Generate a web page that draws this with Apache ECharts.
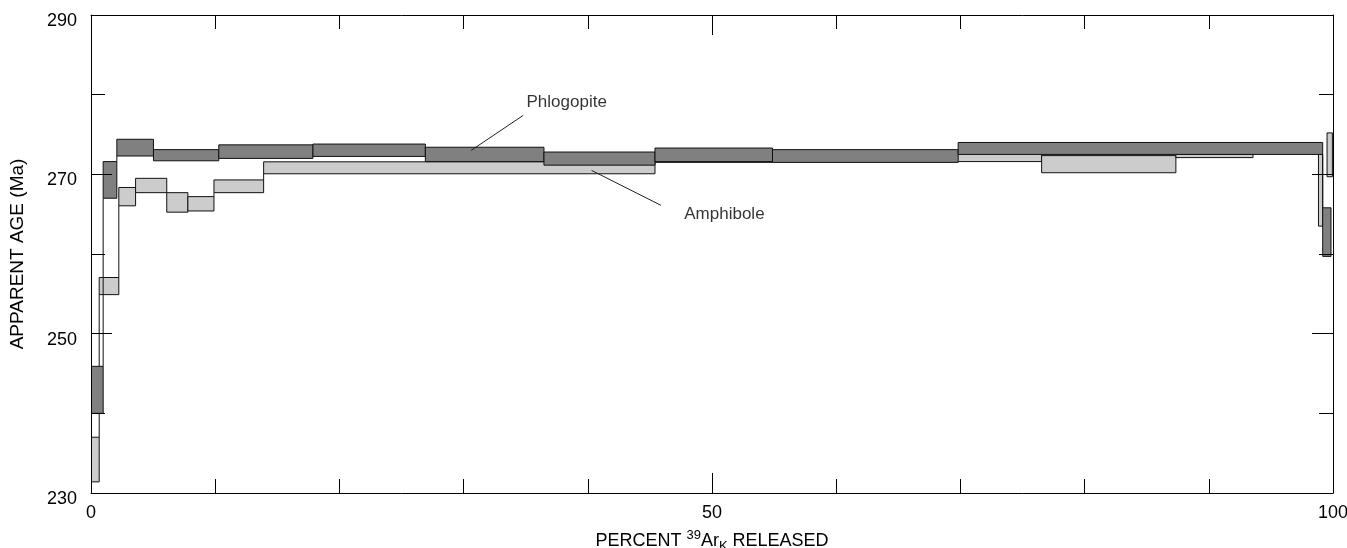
<!DOCTYPE html>
<html>
<head>
<meta charset="utf-8">
<script src="https://cdn.jsdelivr.net/npm/echarts@6/dist/echarts.min.js"></script>
<style>
  html, body { margin: 0; padding: 0; background: #fff; }
  #chart { width: 1347px; height: 548px; }
</style>
</head>
<body>
<div id="chart"></div>
<script>
// step heating spectra: cumulative % 39ArK released (start / end) and age band (low / high, Ma)
const phlStart = [0, 0.98, 2.08, 5.03, 10.29, 17.87, 26.92, 36.47, 45.41, 54.87, 69.82, 99.17];
const phlEnd   = [0.98, 2.08, 5.03, 10.29, 17.87, 26.92, 36.47, 45.41, 54.87, 69.82, 99.17, 99.84];
const phlLow   = [240.0, 267.0, 272.3, 271.7, 272.0, 272.25, 271.6, 271.15, 271.6, 271.5, 272.5, 259.7];
const phlHigh  = [245.9, 271.6, 274.4, 273.1, 273.7, 273.8, 273.4, 272.8, 273.3, 273.1, 274.0, 265.8];

const amphStart = [0, 0.66, 2.24, 3.59, 6.1, 7.8, 9.9, 13.9, 45.41, 54.87, 76.54, 87.35, 93.56, 98.83, 99.52];
const amphEnd   = [0.66, 2.24, 3.59, 6.1, 7.8, 9.9, 13.9, 45.41, 54.87, 76.54, 87.35, 93.56, 98.83, 99.17, 99.95];
const amphLow   = [231.4, 254.9, 266.05, 267.7, 265.25, 265.4, 267.7, 270.07, 271.5, 271.6, 270.2, 272.1, 272.6, 263.5, 269.7];
const amphHigh  = [237.0, 257.05, 268.35, 269.5, 267.7, 267.2, 269.3, 271.57, 271.85, 272.6, 272.35, 272.5, 273.6, 272.5, 275.2];

const xTicks = [0, 50, 100];
const yTicks = [230, 250, 270, 290];

// annotation anchors in data units: label centre, leader start, leader end
const notes = [
  { text: 'Phlogopite', at: [38.3, 279.0], from: [34.8, 277.4], to: [30.6, 273.0] },
  { text: 'Amphibole', at: [51.0, 265.0], from: [45.9, 266.1], to: [40.3, 270.5] }
];

function buildRows(start, end, low, high) {
  return start.map((s, i) => [s, end[i], low[i], high[i],
    i > 0 ? low[i - 1] : NaN, i > 0 ? high[i - 1] : NaN]);
}

function stepRenderer(fill) {
  return function (params, api) {
    const x0 = api.value(0), x1 = api.value(1);
    const lo = api.value(2), hi = api.value(3);
    const pl = api.value(4), ph = api.value(5);
    const a = api.coord([x0, hi]);
    const b = api.coord([x1, lo]);
    const children = [{
      type: 'rect',
      shape: { x: a[0], y: a[1], width: b[0] - a[0], height: b[1] - a[1] },
      style: { fill: fill, stroke: '#111', lineWidth: 1 }
    }];
    if (!isNaN(pl)) {
      let y0 = null, y1 = null;
      if (lo > ph) { y0 = ph; y1 = lo; }
      else if (hi < pl) { y0 = hi; y1 = pl; }
      if (y0 !== null) {
        const c0 = api.coord([x0, y0]);
        const c1 = api.coord([x0, y1]);
        children.push({
          type: 'line',
          shape: { x1: c0[0], y1: c0[1], x2: c1[0], y2: c1[1] },
          style: { stroke: '#111', lineWidth: 1 }
        });
      }
    }
    return { type: 'group', children: children };
  };
}

const font = '"Liberation Sans", Arial, Helvetica, sans-serif';

function xAxisDef(pos, withLabels) {
  return {
    type: 'value', position: pos, min: 0, max: 100, interval: 50,
    axisLine: { show: true, onZero: false, lineStyle: { color: '#000', width: 1 } },
    axisTick: { show: true, inside: true, length: 20, lineStyle: { color: '#000' } },
    minorTick: { show: true, splitNumber: 5, length: 14, lineStyle: { color: '#000' } },
    splitLine: { show: false },
    axisLabel: {
      show: withLabels, color: '#000', fontFamily: font, fontSize: 18, margin: 11,
      formatter: v => xTicks.indexOf(v) >= 0 ? String(v) : ''
    },
    name: withLabels ? '{a|PERCENT }{sup|39}{a|Ar}{sub|K}{a| RELEASED}' : '',
    nameLocation: 'middle', nameGap: 30,
    nameTextStyle: {
      color: '#000', fontFamily: font, fontSize: 18,
      rich: {
        a: { fontFamily: font, fontSize: 18, color: '#000', lineHeight: 28, verticalAlign: 'middle' },
        sup: { fontFamily: font, fontSize: 13, color: '#000', lineHeight: 28, verticalAlign: 'top', padding: [2, 0, 0, 0] },
        sub: { fontFamily: font, fontSize: 13, color: '#000', lineHeight: 28, verticalAlign: 'bottom', padding: [0, 0, 2, 0] }
      }
    },
    z: 5
  };
}

function yAxisDef(pos, withLabels) {
  return {
    type: 'value', position: pos, min: 230, max: 290, interval: 20,
    axisLine: { show: true, onZero: false, lineStyle: { color: '#000', width: 1 } },
    axisTick: { show: true, inside: true, length: 21, lineStyle: { color: '#000' } },
    minorTick: { show: true, splitNumber: 2, length: 14, lineStyle: { color: '#000' } },
    splitLine: { show: false },
    axisLabel: {
      show: withLabels, color: '#000', fontFamily: font, fontSize: 18, margin: 14,
      formatter: v => yTicks.indexOf(v) >= 0 ? '{v|' + v + '}' : '',
      rich: { v: { fontFamily: font, fontSize: 18, color: '#000', padding: [12, 0, 0, 0] } }
    },
    name: withLabels ? 'APPARENT AGE (Ma)' : '',
    nameLocation: 'middle', nameGap: 64, nameRotate: 90,
    nameTextStyle: { color: '#000', fontFamily: font, fontSize: 19 },
    z: 5
  };
}

const chart = echarts.init(document.getElementById('chart'), null, { renderer: 'canvas' });

chart.setOption({
  animation: false,
  backgroundColor: '#fff',
  grid: { left: 91, right: 14, top: 15, bottom: 55, outerBoundsMode: 'none', containLabel: false },
  xAxis: [xAxisDef('bottom', true), xAxisDef('top', false)],
  yAxis: [yAxisDef('left', true), yAxisDef('right', false)],
  series: [
    {
      name: 'Amphibole', type: 'custom', clip: true, z: 2,
      renderItem: stepRenderer('#cccccc'),
      encode: { x: [0, 1], y: [2, 3] },
      data: buildRows(amphStart, amphEnd, amphLow, amphHigh)
    },
    {
      name: 'Phlogopite', type: 'custom', clip: true, z: 3,
      renderItem: stepRenderer('#808080'),
      encode: { x: [0, 1], y: [2, 3] },
      data: buildRows(phlStart, phlEnd, phlLow, phlHigh)
    },
    {
      name: 'leaders', type: 'lines', coordinateSystem: 'cartesian2d', z: 4,
      polyline: false, symbol: 'none',
      lineStyle: { color: '#222', width: 1, opacity: 1 },
      data: notes.map(n => ({ coords: [n.from, n.to] }))
    },
    {
      name: 'labels', type: 'scatter', symbolSize: 0, z: 4, silent: true,
      label: {
        show: true, position: 'inside', color: '#000', fontFamily: font, fontSize: 17,
        formatter: p => p.data[2]
      },
      data: notes.map(n => [n.at[0], n.at[1], n.text])
    }
  ]
});
</script>
</body>
</html>
